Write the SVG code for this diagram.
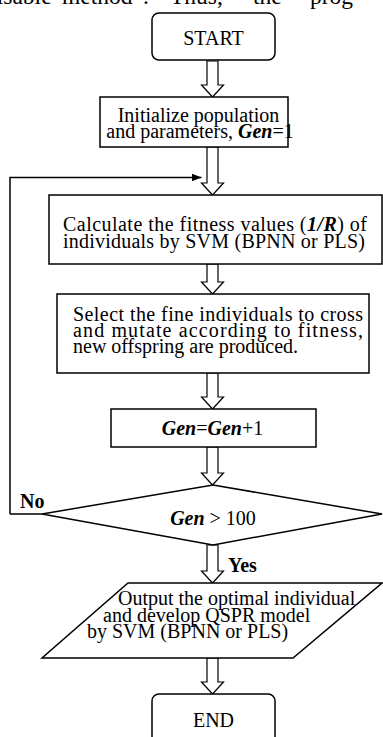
<svg xmlns="http://www.w3.org/2000/svg" width="383" height="737" viewBox="0 0 383 737">
<style>
  .box{fill:#fff;stroke:#000;stroke-width:1.5}
  .blk{fill:#fff;stroke:#000;stroke-width:1.2;stroke-linejoin:miter}
  .ln{fill:none;stroke:#000;stroke-width:1.5}
  text{font-family:"Liberation Serif","Times New Roman",serif;font-size:20px;fill:#000}
  .bi{font-weight:bold;font-style:italic}
  .b{font-weight:bold}
</style>
<defs>
  <marker id="ah" markerWidth="10" markerHeight="8" refX="10" refY="4" orient="auto" markerUnits="userSpaceOnUse">
    <path d="M0,0 L10,4 L0,8 Z" fill="#000"/>
  </marker>
</defs>
<rect width="383" height="737" fill="#fff"/>
<text y="4" style="font-size:23.5px"><tspan x="-15">visable</tspan><tspan x="62">method”.</tspan><tspan x="170">Thus,</tspan><tspan x="253">the</tspan><tspan x="310">prog</tspan></text>

<g id="connectors">
  <path class="ln" d="M10,514 H42 M10,514 V177.5 H201.5" marker-end="url(#ah)"/>
  <path class="blk" d="M207,61 V85 H201.5 L212.5,97 L223.5,85 H218 V61 Z"/>
  <path class="blk" d="M207,147 V183 H201.5 L212.5,195 L223.5,183 H218 V147 Z"/>
  <path class="blk" d="M207,264 V282 H201.5 L212.5,294 L223.5,282 H218 V264 Z"/>
  <path class="blk" d="M207,373 V397 H201.5 L212.5,409 L223.5,397 H218 V373 Z"/>
  <path class="blk" d="M207,447 V473 H201.5 L212.5,485 L223.5,473 H218 V447 Z"/>
  <path class="blk" d="M207,545 V571 H201.5 L212.5,583 L223.5,571 H218 V545 Z"/>
  <path class="blk" d="M207,658 V682 H201.5 L212.5,694 L223.5,682 H218 V658 Z"/>
  <text x="20" y="508" class="b">No</text>
  <text x="228" y="572" class="b">Yes</text>
</g>

<g id="start">
  <rect class="box" x="152" y="13" width="123" height="47" rx="7"/>
  <text x="213.5" y="45" text-anchor="middle">START</text>
</g>

<g id="init">
  <rect class="box" x="100" y="97" width="188" height="50"/>
  <text x="198.5" y="122" text-anchor="middle">Initialize population</text>
  <text x="200" y="138" text-anchor="middle">and parameters, <tspan class="bi">Gen</tspan>=1</text>
</g>

<g id="fitness">
  <rect class="box" x="49" y="195" width="333" height="69"/>
  <text x="63" y="231" textLength="304" lengthAdjust="spacing">Calculate the fitness values (<tspan class="bi">1/R</tspan>) of</text>
  <text x="63" y="248" textLength="302" lengthAdjust="spacing">individuals by SVM (BPNN or PLS)</text>
</g>

<g id="select">
  <rect class="box" x="57" y="294" width="312" height="79"/>
  <text x="73" y="321" textLength="290" lengthAdjust="spacing">Select the fine individuals to cross</text>
  <text x="73" y="337" textLength="290" lengthAdjust="spacing">and mutate according to fitness,</text>
  <text x="73" y="353">new offspring are produced.</text>
</g>

<g id="gen">
  <rect class="box" x="111" y="409" width="205" height="38"/>
  <text x="212.5" y="435" text-anchor="middle"><tspan class="bi">Gen</tspan>=<tspan class="bi">Gen</tspan>+1</text>
</g>

<g id="decision">
  <polygon class="box" points="42,514 213,485 382,514 213,545"/>
  <text x="213" y="525" text-anchor="middle"><tspan class="bi">Gen</tspan> &gt; 100</text>
</g>

<g id="output">
  <polygon class="box" points="128,583 382,583 293,658 42,658"/>
  <text x="118" y="605">Output the optimal individual</text>
  <text x="103" y="622">and develop QSPR model</text>
  <text x="87" y="638">by SVM (BPNN or PLS)</text>
</g>

<g id="end">
  <rect class="box" x="152" y="694" width="123" height="52" rx="7"/>
  <text x="213.5" y="727" text-anchor="middle">END</text>
</g>
</svg>
